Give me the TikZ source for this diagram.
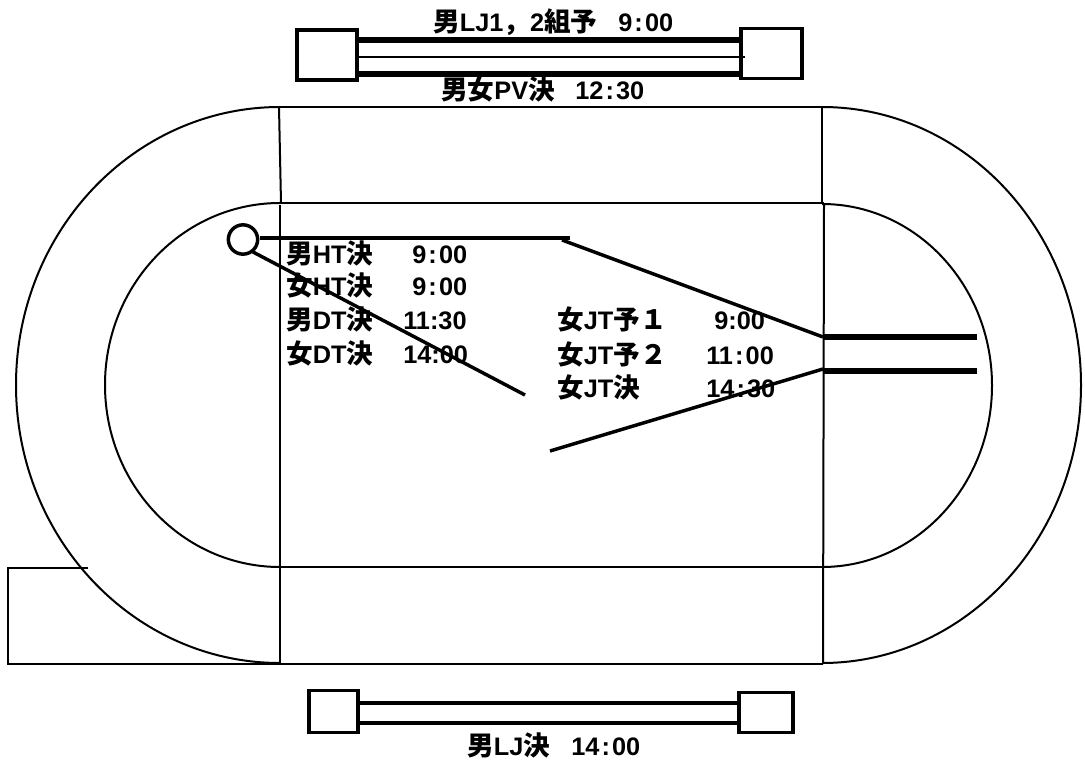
\documentclass[tikz,border=0pt]{standalone}
\usepackage{fontspec}
\setmainfont{Liberation Sans}
\newfontfamily\jpf{Noto Sans CJK JP}[Scale=1.05]
\newcommand{\jp}[1]{{\jpf\bfseries #1}}
\newcommand{\cln}{\kern1.6pt:\kern1.6pt}
\tikzset{
  thin line/.style={line width=1.5pt},
  hair line/.style={line width=0.9pt},
  mid line/.style={line width=2.6pt},
  thick line/.style={line width=3.8pt},
  pit/.style={draw,line width=2.4pt,fill=white,inner sep=0pt},
  lab/.style={anchor=base west,inner sep=0pt,font=\fontsize{19pt}{19pt}\selectfont\bfseries},
  ring/.style={draw,circle,line width=2.6pt,inner sep=0pt,minimum size=22pt}
}
\begin{document}
\begin{tikzpicture}[x=0.75pt,y=-0.75pt]
\useasboundingbox (0,0) rectangle (1085,763);
% track
\coordinate (ot1) at (280,107); \coordinate (ot2) at (822,107);
\coordinate (ob1) at (280,663); \coordinate (ob2) at (822,663);
\coordinate (it1) at (280,203); \coordinate (it2) at (824,203);
\coordinate (ib1) at (280,567); \coordinate (ib2) at (828,567);
\coordinate (ir1) at (822,204);
\draw[thin line] (ot1) arc[start angle=270,end angle=90,x radius=264,y radius=278];
\draw[thin line] (ot2) arc[start angle=-90,end angle=90,x radius=259,y radius=278];
\draw[thin line] (it1) arc[start angle=270,end angle=90,x radius=175,y radius=182];
\draw[thin line] (ir1) arc[start angle=-90,end angle=90,x radius=170,y radius=181.5];
\draw[thin line] (ot1) -- (ot2);
\draw[thin line] (it1) -- (it2);
\draw[thin line] (ib1) -- (ib2);
\coordinate (a1) at (279,107); \coordinate (a2) at (281,203); \coordinate (a3) at (280,205);
\coordinate (b1) at (822,107); \coordinate (b2) at (822,204); \coordinate (b3) at (824,204); \coordinate (b4) at (823,664);
\draw[thin line] (a1) -- (a2);
\draw[thin line] (a3) -- (ob1);
\draw[thin line] (b1) -- (b2);
\draw[thin line] (b3) -- (b4);
% lower-left annex
\coordinate (c1) at (88,568); \coordinate (c2) at (8,568); \coordinate (c3) at (8,664);
\draw[thin line] (c1) -- (c2) -- (c3) -- (b4);
% top pit
\node[pit,minimum width=45pt,minimum height=37.5pt] (tl) at (327,55) {};
\node[pit,minimum width=45.7pt,minimum height=37pt] (tr) at (771.5,53.5) {};
\coordinate (tt1) at (357,40); \coordinate (tt2) at (741,40);
\coordinate (tm1) at (357,57); \coordinate (tm2) at (745,57);
\coordinate (tb1) at (357,74); \coordinate (tb2) at (741,74);
\draw[thick line] (tt1) -- (tt2);
\draw[thick line] (tb1) -- (tb2);
\draw[hair line] (tm1) -- (tm2);
% bottom pit
\node[pit,minimum width=36.7pt,minimum height=32pt] (bl) at (333.5,711.5) {};
\node[pit,minimum width=40.5pt,minimum height=30.5pt] (br) at (766,712.5) {};
\coordinate (bt1) at (358,703); \coordinate (bt2) at (738,703);
\coordinate (bb1) at (358,723); \coordinate (bb2) at (738,723);
\draw[mid line] (bt1) -- (bt2);
\draw[mid line] (bb1) -- (bb2);
% throwing sector
\node[ring] (circ) at (243,239.5) {};
\coordinate (h1) at (260,238); \coordinate (h2) at (570,238);
\coordinate (d1) at (253,252); \coordinate (d2) at (525,395);
\coordinate (j1) at (562,240); \coordinate (j2) at (823,337); \coordinate (j3) at (977,337);
\coordinate (k1) at (550,451); \coordinate (k2) at (823,369); \coordinate (k3) at (823,371); \coordinate (k4) at (977,371);
\draw[mid line] (h1) -- (h2);
\draw[mid line] (d1) -- (d2);
\draw[mid line] (j1) -- (j2);
\draw[mid line] (k1) -- (k2);
\draw[thick line] (j2) -- (j3);
\draw[thick line] (k3) -- (k4);
% labels
\node[lab] (t1) at (433,32) {\jp{男}LJ1\jp{，}2\jp{組予}};
\node[lab] (t1b) at (618,32) {9\cln00};
\node[lab] (t2) at (441,100) {\jp{男女}PV\jp{決}};
\node[lab] (t2b) at (575,100) {12\cln30};
\node[lab] (t3) at (467,755) {\jp{男}LJ\jp{決}};
\node[lab] (t3b) at (571,755) {14\cln00};
\node[lab] (h1t) at (286,263) {\jp{男}HT\jp{決}};
\node[lab] (h1v) at (412,263) {9\cln00};
\node[lab] (h2t) at (286,295) {\jp{女}HT\jp{決}};
\node[lab] (h2v) at (412,295) {9\cln00};
\node[lab] (d1t) at (286,329) {\jp{男}DT\jp{決}};
\node[lab] (d1v) at (403,329) {11:30};
\node[lab] (d2t) at (286,363) {\jp{女}DT\jp{決}};
\node[lab] (d2v) at (403,363) {14:00};
\node[lab] (j1t) at (557,329) {\jp{女}JT\jp{予}\jp{１}};
\node[lab] (j1v) at (714,329) {9:00};
\node[lab] (j2t) at (557,364) {\jp{女}JT\jp{予}\jp{２}};
\node[lab] (j2v) at (706,364) {11\cln00};
\node[lab] (j3t) at (557,397) {\jp{女}JT\jp{決}};
\node[lab] (j3v) at (706,397) {14\cln30};
\end{tikzpicture}
\end{document}
